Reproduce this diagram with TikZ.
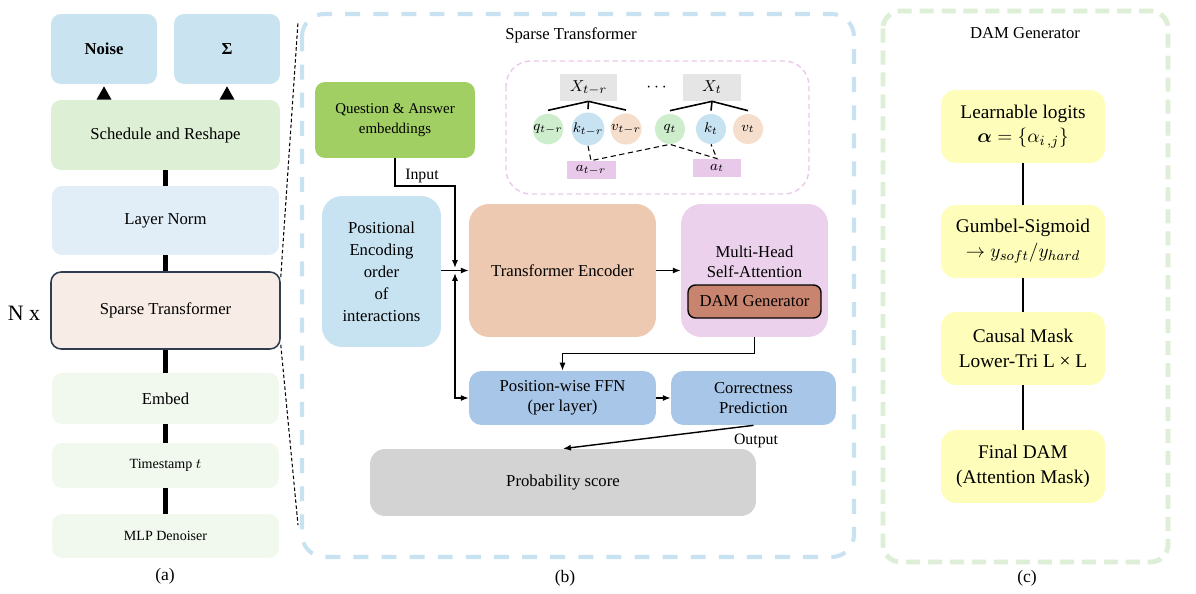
\documentclass[tikz,border=0pt]{standalone}
\usepackage{amsmath,bm}
\usepackage{fontspec}
\setmainfont{Liberation Serif}
\usetikzlibrary{arrows.meta,calc}
\definecolor{cNoise}{HTML}{C9E3F1}
\definecolor{cSched}{HTML}{DDEFD4}
\definecolor{cLN}{HTML}{E1EEF8}
\definecolor{cSparse}{HTML}{F8ECE6}
\definecolor{cSparseB}{HTML}{2E3D4F}
\definecolor{cEmb}{HTML}{F1F8EE}
\definecolor{cQA}{HTML}{A1CF64}
\definecolor{cPos}{HTML}{C7E2F1}
\definecolor{cTE}{HTML}{EEC9B1}
\definecolor{cMH}{HTML}{ECD1EC}
\definecolor{cDAM}{HTML}{C98470}
\definecolor{cFFN}{HTML}{A8C6E7}
\definecolor{cProb}{HTML}{D3D3D3}
\definecolor{cYel}{HTML}{FEFEBA}
\definecolor{cPinkD}{HTML}{EBC9EB}
\definecolor{cXg}{HTML}{E5E5E5}
\definecolor{cAp}{HTML}{E9C9E9}
\definecolor{cCg}{HTML}{CDEDCD}
\definecolor{cCb}{HTML}{C7E2F1}
\definecolor{cCp}{HTML}{F6DECD}
\definecolor{cFrameB}{HTML}{C8E2F2}
\definecolor{cFrameC}{HTML}{DDEFD6}
\begin{document}
\begin{tikzpicture}[x=0.02cm,y=-0.02cm,
  box/.style={rounded corners=0.2cm, inner sep=0pt, align=center, font=\fontsize{9.5}{11.5}\selectfont},
  smallbox/.style={box, font=\fontsize{8}{10}\selectfont},
  ybox/.style={box, fill=cYel, rounded corners=0.3cm, minimum width=3.28cm, minimum height=1.46cm, font=\fontsize{11}{14}\selectfont},
  bar/.style={line width=2.8pt},
  arr/.style={-{Latex[length=4.5pt,width=3.5pt]}, line width=0.8pt},
  darr/.style={{Latex[length=4.5pt,width=3.5pt]}-{Latex[length=4.5pt,width=3.5pt]}, line width=0.8pt},
  zoomline/.style={line width=0.6pt, dash pattern=on 2pt off 1.4pt},
  circ/.style={circle, minimum size=0.6cm, inner sep=0pt, font=\fontsize{8.5}{10}\selectfont},
  lbl/.style={font=\fontsize{9.5}{11}\selectfont}
]
\useasboundingbox (0,0) rectangle (1196,594);

% ---------------- panel (a)
\node[box, fill=cNoise, minimum width=2.12cm, minimum height=1.4cm, font=\fontsize{9.5}{11}\selectfont\bfseries] (noise) at (104,49) {Noise};
\node[box, fill=cNoise, minimum width=2.12cm, minimum height=1.4cm, font=\fontsize{9.5}{11}\selectfont\bfseries] (sigma) at (227,49) {Σ};
\node[box, fill=cSched, minimum width=4.58cm, minimum height=1.4cm] (sched) at (165.5,135) {Schedule and Reshape};
\node[box, fill=cLN, minimum width=4.54cm, minimum height=1.38cm] (ln) at (165.5,220.5) {Layer Norm};
\node[box, fill=cSparse, draw=cSparseB, line width=0.9pt, minimum width=4.58cm, minimum height=1.54cm] (sparse) at (165.5,310.5) {Sparse Transformer};
\node[box, fill=cEmb, minimum width=4.54cm, minimum height=1.02cm] (embed) at (165.5,398.5) {Embed};
\node[smallbox, fill=cEmb, minimum width=4.54cm, minimum height=0.9cm] (ts) at (165.5,465.5) {Timestamp $t$};
\node[smallbox, fill=cEmb, minimum width=4.54cm, minimum height=0.88cm] (mlp) at (165.5,536) {MLP Denoiser};
\node[font=\fontsize{12.5}{14}\selectfont] (nx) at (24,313) {N x};
\node[lbl, font=\fontsize{10}{12}\selectfont] (la) at (165,576) {(a)};

\draw[bar] (sched.south) -- (ln.north);
\draw[bar] (ln.south) -- (sparse.north);
\draw[bar] (sparse.south) -- (embed.north);
\draw[bar] (embed.south) -- (ts.north);
\draw[bar] (ts.south) -- (mlp.north);
\fill ($(noise.south)+(0,2)$) -- ($(noise.south |- sched.north)+(-7.5,0)$) -- ($(noise.south |- sched.north)+(7.5,0)$) -- cycle;
\fill ($(sigma.south)+(0,2)$) -- ($(sigma.south |- sched.north)+(-7.5,0)$) -- ($(sigma.south |- sched.north)+(7.5,0)$) -- cycle;

\coordinate (ztop) at (298,22);
\coordinate (zbot) at (298,525);
\draw[zoomline] ($(sparse.north east)+(0,6)$) -- (ztop);
\draw[zoomline] ($(sparse.south east)+(0,-5)$) -- (zbot);

% ---------------- panel (b)
\draw[cFrameB, line width=2.3pt, dash pattern=on 8.5pt off 7.5pt, rounded corners=0.45cm] (302,14) rectangle (854,557);
\node[lbl] (tb) at (571,35) {Sparse Transformer};
\node[lbl, font=\fontsize{10}{12}\selectfont] (lb) at (565,578) {(b)};

\node[box, fill=cQA, minimum width=3.2cm, minimum height=1.52cm, font=\fontsize{8.5}{11}\selectfont] (qa) at (395,120) {Question \& Answer\\embeddings};
\node[box, fill=cPos, rounded corners=0.4cm, minimum width=2.38cm, minimum height=3.02cm, font=\fontsize{9.5}{12.5}\selectfont] (pos) at (381.5,271.5) {Positional\\Encoding\\order\\of\\interactions};
\node[box, fill=cTE, rounded corners=0.4cm, minimum width=3.74cm, minimum height=2.66cm] (te) at (562.5,270.5) {Transformer Encoder};
\node[box, fill=cMH, rounded corners=0.4cm, minimum width=2.94cm, minimum height=2.66cm] (mh) at (754.5,270.5) {};
\node[box, font=\fontsize{9.5}{11.5}\selectfont] (mht) at (754.5,262) {Multi-Head\\Self-Attention};
\node[box, fill=cDAM, draw=black, line width=0.8pt, rounded corners=0.15cm, minimum width=2.66cm, minimum height=0.66cm] (dam) at (754.5,301.5) {DAM Generator};
\node[box, fill=cFFN, rounded corners=0.25cm, minimum width=3.74cm, minimum height=1.08cm] (ffn) at (562.5,398) {Position-wise FFN\\(per layer)};
\node[box, fill=cFFN, rounded corners=0.25cm, minimum width=3.3cm, minimum height=1.08cm] (corr) at (753.5,398) {Correctness\\Prediction};
\node[box, fill=cProb, rounded corners=0.3cm, minimum width=7.72cm, minimum height=1.34cm] (prob) at (563,482.5) {Probability score};

% attention sketch
\draw[cPinkD, line width=0.8pt, dash pattern=on 3pt off 2pt, rounded corners=0.5cm] (506,61) rectangle (809,194);
\node[fill=cXg, minimum width=1.14cm, minimum height=0.54cm, inner sep=0pt, font=\fontsize{9.5}{10}\selectfont] (xtr) at (588.5,87.5) {$X_{t-r}$};
\node[fill=cXg, minimum width=1.16cm, minimum height=0.54cm, inner sep=0pt, font=\fontsize{9.5}{10}\selectfont] (xt) at (712,87.5) {$X_{t}$};
\node[font=\fontsize{10}{10}\selectfont] (dots) at (658,88) {$\cdots$};
\node[circ, fill=cCg] (qtr) at (548,129) {$q_{t-r}$};
\node[circ, fill=cCb] (ktr) at (588,129) {$k_{t-r}$};
\node[circ, fill=cCp] (vtr) at (626,129) {$v_{t-r}$};
\node[circ, fill=cCg] (qt) at (670,129) {$q_{t}$};
\node[circ, fill=cCb] (kt) at (711,129) {$k_{t}$};
\node[circ, fill=cCp] (vt) at (748,129) {$v_{t}$};
\node[fill=cAp, minimum width=0.98cm, minimum height=0.36cm, inner sep=0pt, font=\fontsize{8.5}{10}\selectfont] (atr) at (591,170) {$a_{t-r}$};
\node[fill=cAp, minimum width=0.96cm, minimum height=0.36cm, inner sep=0pt, font=\fontsize{8.5}{10}\selectfont] (at) at (717,168) {$a_{t}$};
\foreach \c in {qtr,ktr,vtr}{\draw[line width=0.9pt] (xtr.south) -- ($(\c.north)+(0,-3)$);}
\foreach \c in {qt,kt,vt}{\draw[line width=0.9pt] (xt.south) -- ($(\c.north)+(0,-3)$);}
\draw[line width=0.6pt, dash pattern=on 3pt off 2pt] (ktr.south) -- (atr.north) -- (qt.south) -- (at.north) -- (kt.south);

% connectors
\coordinate (jin) at (455,186);
\coordinate (jtop) at (455,268);
\coordinate (jbot) at (455,273);
\draw[arr] (qa.south) |- (jin) -- (jtop);
\node[lbl, font=\fontsize{9}{11}\selectfont] (inp) at (422,176) {Input};
\draw[arr] (pos.east |- te.west) -- (te.west);
\draw[darr] (jbot) |- (ffn.west);
\draw[arr] (te.east) -- (mh.west);
\draw[arr] (mh.south) -- ++(0,16) -| (ffn.north);
\draw[arr] (ffn.east) -- (corr.west);
\draw[arr] (corr.south) -- (prob.north);
\node[lbl, font=\fontsize{9}{11}\selectfont] (outp) at (756,441) {Output};

% ---------------- panel (c)
\draw[cFrameC, line width=2.8pt, dash pattern=on 8pt off 4.5pt, rounded corners=0.35cm] (883,11) rectangle (1168,562);
\node[lbl] (tc) at (1025,33) {DAM Generator};
\node[lbl, font=\fontsize{10}{12}\selectfont] (lc) at (1027,578) {(c)};
\node[ybox] (ll) at (1023,126.5) {Learnable logits\\$\bm{\alpha}=\{\alpha_{i\,,j}\}$};
\node[ybox] (gs) at (1023,241.5) {Gumbel-Sigmoid\\$\rightarrow y_{soft}/y_{hard}$};
\node[ybox] (cm) at (1023,348.5) {Causal Mask\\Lower-Tri L × L};
\node[ybox] (fd) at (1023,466.5) {Final DAM\\(Attention Mask)};
\draw[line width=0.7pt] (ll) -- (gs);
\draw[line width=0.7pt] (gs) -- (cm);
\draw[line width=0.7pt] (cm) -- (fd);
\end{tikzpicture}
\end{document}
